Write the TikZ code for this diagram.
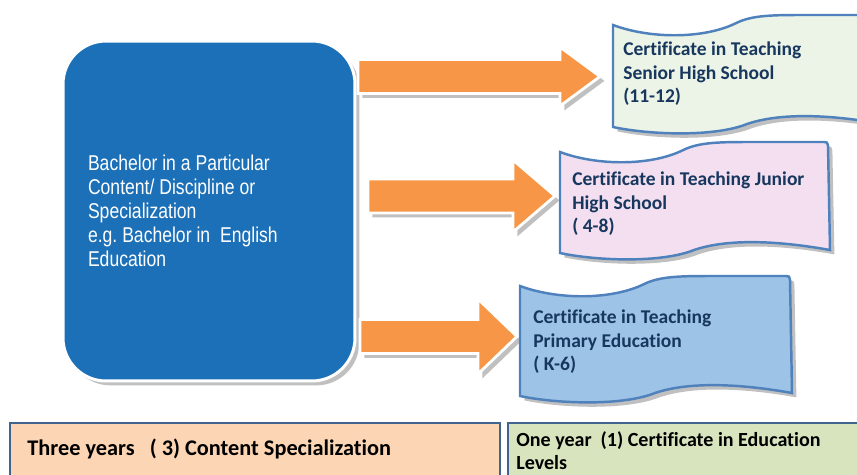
\documentclass[tikz,border=0pt]{standalone}
\usepackage{fontspec}
\setmainfont{Carlito}[Ligatures=NoCommon]
\newfontfamily\narrowfont{Liberation Sans}[FakeStretch=0.82]
\usepackage{tikz}
\usetikzlibrary{shadows,positioning}

\definecolor{boxblue}{HTML}{1C70B8}
\definecolor{arroworange}{HTML}{F79646}
\definecolor{flagline}{HTML}{4F81BD}
\definecolor{flaggreen}{HTML}{EBF4E6}
\definecolor{flagpink}{HTML}{F3DFF0}
\definecolor{flagblue}{HTML}{9DC3E6}
\definecolor{flagink}{HTML}{17375E}
\definecolor{barorange}{HTML}{FCD5B5}
\definecolor{bargreen}{HTML}{D7E4BD}
\definecolor{barline}{HTML}{41648F}

% wavy flag: fill, left x, top y, width, left height
\newcommand{\wavyflag}[5]{%
\draw [flag, fill=#1] ({#2},{#3+10})
  .. controls ({#2+0.14*#4},{#3+24}) and ({#2+0.34*#4},{#3+24}) .. ({#2+0.46*#4},{#3+8})
  .. controls ({#2+0.52*#4},{#3}) and ({#2+0.6*#4},{#3}) .. ({#2+0.72*#4},{#3})
  -- ({#2+#4-4},{#3}) .. controls ({#2+#4-1},{#3}) .. ({#2+#4},{#3+4})
  -- ({#2+#4+2},{#3+7+#5})
  .. controls ({#2+0.8*#4},{#3+#5-3}) and ({#2+0.62*#4},{#3+#5-4}) .. ({#2+0.5*#4},{#3+#5+7})
  .. controls ({#2+0.38*#4},{#3+#5+20}) and ({#2+0.14*#4},{#3+#5+18}) .. ({#2},{#3+10+#5}) -- cycle;}

\begin{document}
\begin{tikzpicture}[x=0.02cm, y=-0.02cm,
  shade/.style={drop shadow={shadow xshift=2.5pt, shadow yshift=-2.5pt, fill=black!45, opacity=.55}},
  bluebox/.style={rectangle, rounded corners=0.86cm, fill=boxblue, draw=white, line width=1.7pt,
    minimum width=5.84cm, minimum height=6.8cm, text width=4.84cm, align=left, text=white,
    font=\narrowfont\fontsize{12.2}{13.6}\selectfont, shade},
  barrow/.style={fill=arroworange, draw=white, line width=1.6pt, shade},
  flag/.style={draw=flagline, line width=1.4pt, shade},
  flagtext/.style={anchor=west, align=left, text=flagink, inner sep=0pt,
    font=\bfseries\fontsize{11.1}{13.4}\selectfont},
  bar/.style={draw=barline, line width=1.2pt},
  bartext/.style={align=left, text=black, inner sep=0pt}]
\useasboundingbox (0,0) rectangle (857,474);

% left box
\node [bluebox] (bachelor) at (209,211) {\spaceskip=0.23em \xspaceskip=0.23em Bachelor in a Particular\\Content/ Discipline or\\Specialization\\e.g. Bachelor in~ English\\Education};

% arrows
\draw [barrow] (358,59.5) -- (560,59.5) -- (560,47) -- (600,76.5) -- (560,106) -- (560,93.5) -- (358,93.5) -- cycle;
\draw [barrow] (368,179) -- (513,179) -- (513,160) -- (555,196) -- (513,232) -- (513,213) -- (368,213) -- cycle;
\draw [barrow] (360,319.5) -- (478,319.5) -- (478,299) -- (517,336.5) -- (478,374) -- (478,353.5) -- (360,353.5) -- cycle;

% flags
\wavyflag{flaggreen}{613}{15}{268}{102}
\wavyflag{flagpink}{560}{142}{268}{101}
\wavyflag{flagblue}{520}{276}{270}{110}

\node [flagtext] (senior) at (623,74) {Certificate in Teaching\\Senior High School\\(11-12)};
\node [flagtext] (junior) at (572,204) {Certificate in Teaching Junior\\High School\\( 4-8)};
\node [flagtext] (primary) at (533,342) {Certificate in Teaching\\Primary Education\\( K-6)};

% bottom bars
\draw [bar, fill=barorange] (10,423) rectangle (500,495);
\draw [bar, fill=bargreen] (508,423) rectangle (875,495);
\node [bartext, anchor=west, font=\bfseries\fontsize{12.7}{14}\selectfont] (threeyrs) at (27,449) {Three years~~ ( 3) Content Specialization};
\node [bartext, anchor=west, font=\bfseries\fontsize{11.4}{13.2}\selectfont] (oneyr) at (516,451) {One year~ (1) Certificate in Education\\Levels};
\end{tikzpicture}
\end{document}
